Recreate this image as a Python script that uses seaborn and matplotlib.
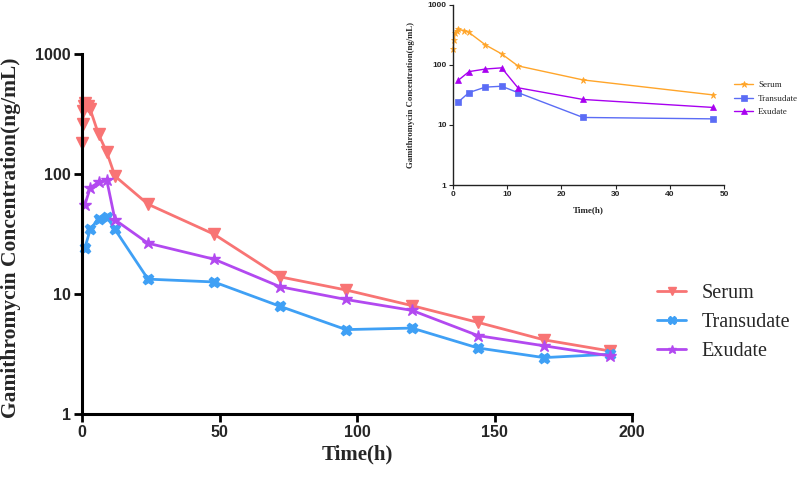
import matplotlib
matplotlib.use("Agg")
import matplotlib.pyplot as plt
import seaborn as sns
import numpy as np
from matplotlib.ticker import FixedLocator, FixedFormatter, NullLocator

# ---------------- data ----------------
serum_t = [0.083, 0.25, 0.5, 0.75, 1, 2, 3, 6, 9, 12, 24, 48, 72, 96, 120, 144, 168, 192]
serum_c = [183, 262, 335, 368, 392, 372, 345, 215, 152, 96, 56, 31.5, 13.9, 10.8, 8.0, 5.8, 4.15, 3.35]

trans_t = [1, 3, 6, 9, 12, 24, 48, 72, 96, 120, 144, 168, 192]
trans_c = [24, 34.5, 42.5, 44, 34.5, 13.3, 12.6, 7.9, 5.05, 5.2, 3.55, 2.95, 3.15]

exu_t = [1, 3, 6, 9, 12, 24, 48, 72, 96, 120, 144, 168, 192]
exu_c = [55, 77, 85, 89, 41.5, 26.5, 19.5, 11.5, 9.0, 7.3, 4.5, 3.7, 3.05]

inset_tmax = 48
series_names = ["Serum", "Transudate", "Exudate"]
y_ticks = [1, 10, 100, 1000]
y_ticklabels = ["1", "10", "100", "1000"]
main_xticks = [0, 50, 100, 150, 200]
inset_xticks = [0, 10, 20, 30, 40, 50]

main_colors = ["#F87474", "#3FA0F5", "#B249F0"]
main_markers = ["v", "X", "*"]
inset_colors = ["#FFA52A", "#5B6CF5", "#A800F0"]
inset_markers = ["*", "s", "^"]

sns.set_theme(style="ticks")
plt.rcParams["font.family"] = ["Liberation Sans", "DejaVu Sans"]

fig = plt.figure(figsize=(8, 4.8), dpi=100)

# ---------------- main axes ----------------
ax = fig.add_axes([82 / 800, 66 / 480, 550 / 800, 360 / 480])
data = [(serum_t, serum_c), (trans_t, trans_c), (exu_t, exu_c)]
for (t, c), name, col, mk in zip(data, series_names, main_colors, main_markers):
    ms = {"v": 8, "X": 7.5, "*": 9}[mk]
    sns.lineplot(x=t, y=c, ax=ax, color=col, marker=mk, markersize=ms,
                 markeredgecolor=col, markeredgewidth=1, linewidth=2.0,
                 label=name, legend=False)
ax.set_yscale("log")
ax.set_ylim(1, 1000)
ax.set_xlim(0, 200)
ax.yaxis.set_major_locator(FixedLocator(y_ticks))
ax.yaxis.set_major_formatter(FixedFormatter(y_ticklabels))
ax.yaxis.set_minor_locator(NullLocator())
ax.xaxis.set_major_locator(FixedLocator(main_xticks))
for s in ["top", "right"]:
    ax.spines[s].set_visible(False)
for s in ["left", "bottom"]:
    ax.spines[s].set_linewidth(2.2)
    ax.spines[s].set_color("black")
ax.tick_params(axis="both", which="major", length=6, width=2, color="black",
               labelsize=11.5, pad=2)
for lab in ax.get_xticklabels() + ax.get_yticklabels():
    lab.set_fontweight("bold")
    lab.set_family(["Liberation Sans", "DejaVu Sans"])
ax.set_xlabel("Time(h)", fontsize=15, fontweight="bold",
              family=["Liberation Serif", "DejaVu Serif"])
ax.set_ylabel("Gamithromycin Concentration(ng/mL)", fontsize=15.5, fontweight="bold",
              family=["Liberation Serif", "DejaVu Serif"])
ax.xaxis.set_label_coords(0.5, -0.085)
ax.yaxis.set_label_coords(-0.111, 0.49)
for ln in ax.lines:
    ln.set_clip_on(False)

handles, labels = ax.get_legend_handles_labels()
fig.legend(handles, labels, loc="upper left", bbox_to_anchor=(649 / 800, 1 - 276 / 480),
           frameon=False, prop={"family": ["Liberation Serif", "DejaVu Serif"], "size": 14.5},
           handlelength=1.45, labelspacing=0.5, handletextpad=0.75, markerscale=0.7,
           borderaxespad=0)

# ---------------- inset axes ----------------
ai = fig.add_axes([452.7 / 800, 1 - 185 / 480, 271.6 / 800, 180.3 / 480])
idata = []
for t, c in data:
    tt = [x for x in t if x <= inset_tmax]
    cc = [y for x, y in zip(t, c) if x <= inset_tmax]
    idata.append((tt, cc))
for (t, c), name, col, mk in zip(idata, series_names, inset_colors, inset_markers):
    ms = 4.5 if mk != "*" else 5
    sns.lineplot(x=t, y=c, ax=ai, color=col, marker=mk, markersize=ms,
                 markeredgecolor=col, markeredgewidth=0.5, linewidth=1.0,
                 label=name, legend=False)
ai.set_yscale("log")
ai.set_ylim(1, 1000)
ai.set_xlim(0, 50)
ai.yaxis.set_major_locator(FixedLocator(y_ticks))
ai.yaxis.set_major_formatter(FixedFormatter(y_ticklabels))
ai.yaxis.set_minor_locator(NullLocator())
ai.xaxis.set_major_locator(FixedLocator(inset_xticks))
for s in ["top", "right"]:
    ai.spines[s].set_visible(False)
for s in ["left", "bottom"]:
    ai.spines[s].set_linewidth(1.0)
    ai.spines[s].set_color("#222222")
ai.set_facecolor("none")
ai.tick_params(axis="both", which="major", length=3, width=0.8, color="#222222",
               labelsize=6, pad=1.5)
for lab in ai.get_xticklabels() + ai.get_yticklabels():
    lab.set_fontweight("bold")
ai.set_xlabel("Time(h)", fontsize=6.5, fontweight="bold",
              family=["Liberation Serif", "DejaVu Serif"])
ai.set_ylabel("Gamithromycin Concentration(ng/mL)", fontsize=6.3, fontweight="bold",
              family=["Liberation Serif", "DejaVu Serif"])
ai.xaxis.set_label_coords(0.5, -0.12)
ai.yaxis.set_label_coords(-0.14, 0.5)
for ln in ai.lines:
    ln.set_clip_on(False)

ih, il = ai.get_legend_handles_labels()
fig.legend(ih, il, loc="upper left", bbox_to_anchor=(730 / 800, 1 - 77 / 480),
           frameon=False, prop={"family": ["Liberation Serif", "DejaVu Serif"], "size": 6.5},
           handlelength=2.2, labelspacing=0.6, handletextpad=0.5, borderaxespad=0)

fig.savefig("out.png", dpi=100)
